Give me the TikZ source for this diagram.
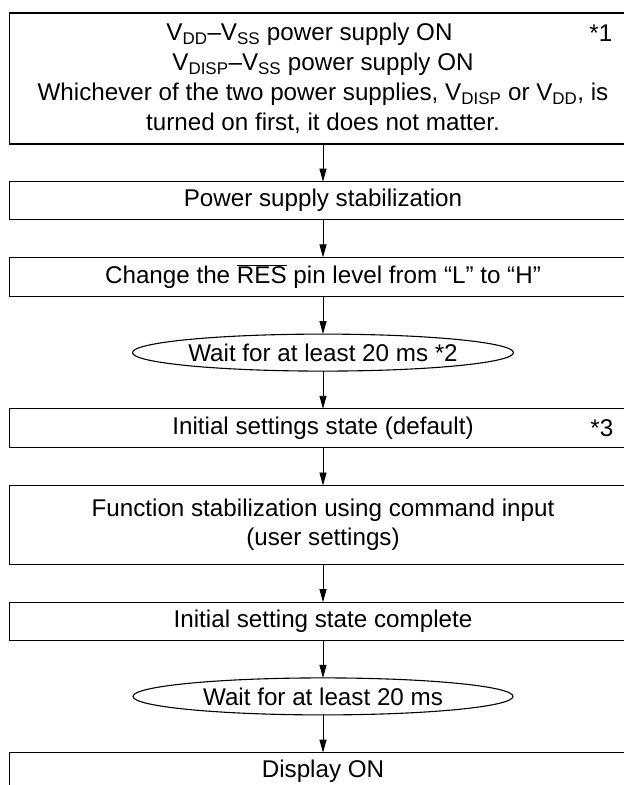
\documentclass[tikz,border=0pt]{standalone}
\usepackage{fontspec}
\setmainfont{Liberation Sans}
\usetikzlibrary{
	positioning,
	arrows.meta,
	shapes.geometric
}

\newcommand{\Vs}[1]{V\textsubscript{#1}}

\tikzset{
	stepbox/.style={draw, line width=1.1pt, minimum width=627pt, inner sep=0pt, outer sep=0pt,
		align=center, font=\fontsize{24.2}{30}\selectfont},
	waitoval/.style={draw, ellipse, line width=1.1pt, minimum width=380pt,
		minimum height=37pt, inner sep=0pt, outer sep=0pt, font=\fontsize{24.2}{30}\selectfont},
	starnote/.style={inner sep=0pt, font=\fontsize{24.2}{30}\selectfont},
	flow/.style={-{Triangle[length=13pt,width=7pt]}, line width=0.9pt}
}

\begin{document}
\begin{tikzpicture}[x=1pt, y=-1pt, node distance=37.7pt]
		\useasboundingbox (0,0) rectangle (624,785);
		\clip (0,0) rectangle (624,785);
		\draw
			node[stepbox,minimum height=131pt,anchor=north] (b1) at (323,13)
				{\Vs{DD}--\Vs{SS} power supply ON\hspace*{27pt}\\
				 \Vs{DISP}--\Vs{SS} power supply ON\hspace*{27pt}\\
				 Whichever of the two power supplies, \Vs{DISP} or \Vs{DD}, is\\
				 turned on first, it does not matter.}
			node[stepbox,minimum height=38pt,below=of b1] (b2) {Power supply stabilization}
			node[stepbox,minimum height=39pt,below=of b2] (b3)
				{Change the $\overline{\mbox{RES}}$ pin level from “L” to “H”}
			node[waitoval,below=of b3]                    (w1) {Wait for at least 20 ms *2}
			node[stepbox,minimum height=39pt,below=of w1] (b4) {Initial settings state (default)}
			node[stepbox,minimum height=79pt,below=of b4,
				font=\fontsize{24.2}{29}\selectfont]      (b5)
				{Function stabilization using command input\\ (user settings)}
			node[stepbox,minimum height=38pt,below=of b5] (b6) {Initial setting state complete}
			node[waitoval,below=of b6]                    (w2) {Wait for at least 20 ms}
			node[stepbox,minimum height=44pt,text depth=12pt,below=of w2] (b7) {Display ON}

			(b1) edge[flow] (b2)
			(b2) edge[flow] (b3)
			(b3) edge[flow] (w1)
			(w1) edge[flow] (b4)
			(b4) edge[flow] (b5)
			(b5) edge[flow] (b6)
			(b6) edge[flow] (w2)
			(w2) edge[flow] (b7)
		;
		% footnote marks at the right of the boxes
		\node[starnote,anchor=base east] (s1) at ([xshift=-24pt,yshift=-28pt]b1.north east) {*1};
		\node[starnote,anchor=east]      (s3) at ([xshift=-23pt]b4.east) {*3};
	\end{tikzpicture}
\end{document}
